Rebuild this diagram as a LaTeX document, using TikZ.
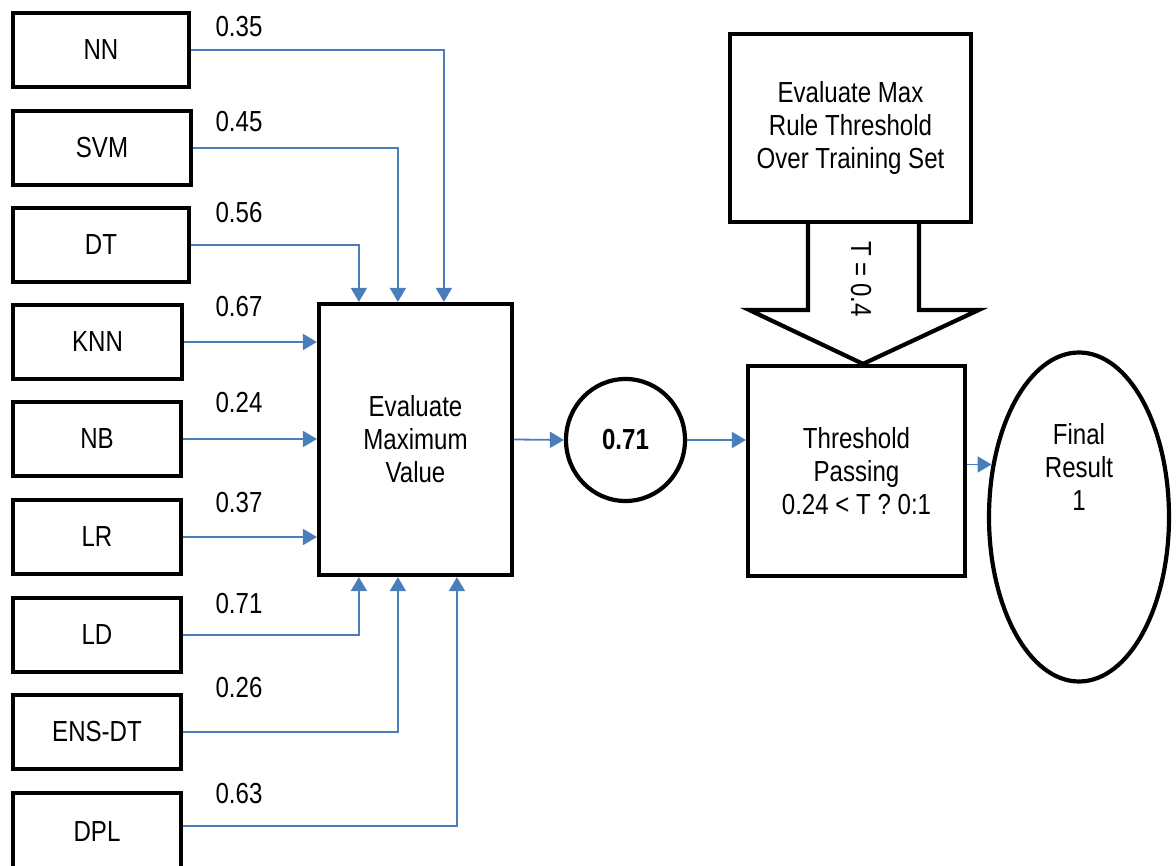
\documentclass[tikz,border=0pt]{standalone}
\usepackage{fontspec}
\setmainfont{Liberation Sans}[FakeStretch=0.83]
\usetikzlibrary{arrows.meta,calc,shapes.geometric}
\definecolor{linkblue}{RGB}{74,126,187}
\pgfdeclarelayer{back}
\pgfsetlayers{back,main}
\begin{document}
\begin{tikzpicture}[x=1pt,y=-1pt,
  txt/.style={font=\fontsize{29}{33}\selectfont},
  model/.style={draw=black, line width=4.2pt, rectangle, fill=white,
    minimum height=74pt, inner sep=0pt, txt},
  proc/.style={draw=black, line width=4.2pt, rectangle, fill=white,
    align=center, inner sep=0pt, txt},
  oval/.style={draw=black, line width=4.2pt, ellipse, fill=white,
    inner sep=0pt, txt},
  conn/.style={draw=linkblue, line width=1.8pt,
    -{Triangle[width=16pt,length=14pt]}},
  weight/.style={txt, inner sep=0pt}]

\useasboundingbox (0,0) rectangle (1176,866);
\clip (0,0) rectangle (1176,866);

% classifier boxes
\node[model, minimum width=176pt] (nn)  at (101,50)  {NN};
\node[model, minimum width=178pt] (svm) at (102,148) {SVM};
\node[model, minimum width=176pt] (dt)  at (101,245) {DT};
\node[model, minimum width=169pt] (knn) at (97.5,342) {KNN};
\node[model, minimum width=168pt] (nb)  at (97,439)  {NB};
\node[model, minimum width=168pt] (lr)  at (97,537)  {LR};
\node[model, minimum width=168pt] (ld)  at (97,635)  {LD};
\node[model, minimum width=168pt] (ens) at (97,732)  {ENS-DT};
\node[model, minimum width=168pt, minimum height=78pt] (dpl) at (97,832) {DPL};

% combining stage
\node[proc, minimum width=193pt, minimum height=271pt] (eval) at (415.5,439.5)
  {Evaluate\\Maximum\\Value};
\node[oval, minimum width=119pt, minimum height=122pt] (best) at (625.5,440)
  {\bfseries 0.71};

% threshold from training set, fed down by a block arrow
\node[proc, minimum width=241pt, minimum height=188pt] (train) at (850.5,128)
  {Evaluate Max\\Rule Threshold\\Over Training Set};
\node[proc, minimum width=217pt, minimum height=210pt] (thr) at (856.5,471)
  {Threshold\\Passing\\0.24 < T ? 0:1};

\begin{pgfonlayer}{back}
\fill[white, draw=black, line width=4.2pt, line join=miter]
  ($(train.south)+(-42.5,-4)$) -- ($(train.south)+(-42.5,86)$)
  -- ($(train.south)+(-101,86)$) -- ($(thr.north)+(6.5,0)$)
  -- ($(train.south)+(128,86)$) -- ($(train.south)+(68.5,86)$)
  -- ($(train.south)+(68.5,-4)$);
\end{pgfonlayer}
\node[txt, rotate=-90] (tval) at (861,279) {T = 0.4};

% final decision
\node[oval, minimum width=180pt, minimum height=329pt] (final) at (1079,517) {};
\node[txt, align=center] (finaltxt) at ($(final.center)+(0,-50)$)
  {Final\\Result\\1};

% weights
\node[weight] at (239,27)  {0.35};
\node[weight] at (239,122) {0.45};
\node[weight] at (239,213) {0.56};
\node[weight] at (239,307) {0.67};
\node[weight] at (239,403) {0.24};
\node[weight] at (239,503) {0.37};
\node[weight] at (239,604) {0.71};
\node[weight] at (239,688) {0.26};
\node[weight] at (239,794) {0.63};

% connectors into the maximum stage
\draw[conn] (nn.east)  -| ($(eval.north west)+(127,0)$);
\draw[conn] (svm.east) -| ($(eval.north west)+(81,0)$);
\draw[conn] (dt.east)  -| ($(eval.north west)+(42,0)$);
\draw[conn] (knn.east) -- (knn.east -| eval.west);
\draw[conn] (nb.east)  -- (nb.east -| eval.west);
\draw[conn] (lr.east)  -- (lr.east -| eval.west);
\draw[conn] (ld.east)  -| ($(eval.south west)+(42,0)$);
\draw[conn] (ens.east) -| ($(eval.south west)+(81,0)$);
\draw[conn] ($(dpl.east)+(0,-6)$) -| ($(eval.south west)+(140,0)$);

% downstream connectors
\draw[conn] (eval.east) -- (best.west);
\draw[conn] (best.east) -- (best.east -| thr.west);
\draw[conn] (thr.east |- final.149) -- (final.149);
\end{tikzpicture}
\end{document}
